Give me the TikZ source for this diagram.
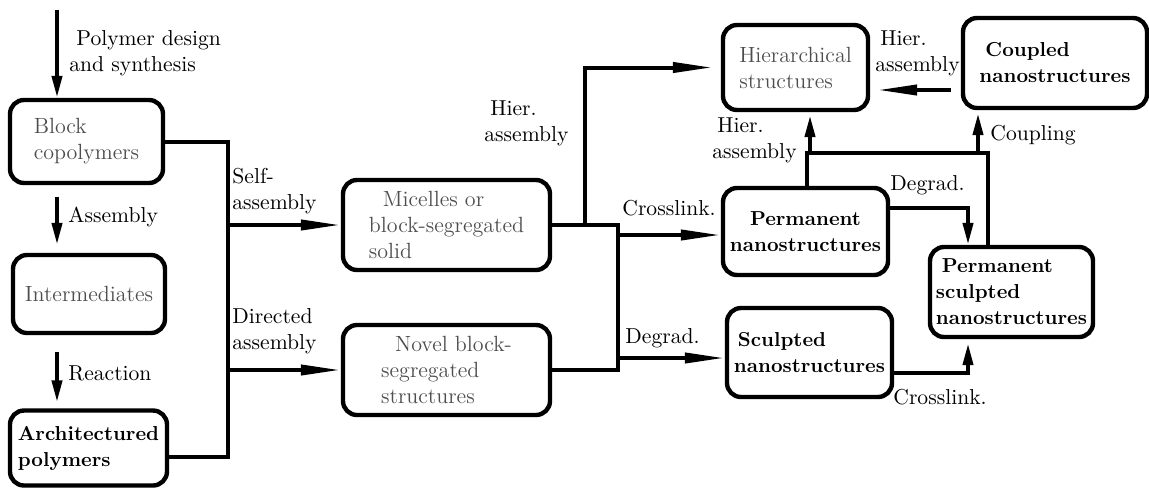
\documentclass[tikz,border=0pt]{standalone}
\usepackage{fontspec}
\usetikzlibrary{arrows.meta}
\definecolor{txtgray}{HTML}{4D4D4D}
\tikzset{
  box/.style={draw=black, line width=2.2pt, rounded corners=7pt, align=left, inner sep=2pt, font=\fontsize{11}{13}\selectfont},
  graytext/.style={text=txtgray},
  boldtext/.style={font=\fontsize{10.1}{13}\selectfont\bfseries},
  lbl/.style={align=left, inner sep=0pt, font=\fontsize{10.8}{13}\selectfont},
  conn/.style={line width=2pt},
  arr/.style={conn, -{Triangle[length=11pt,width=5pt]}},
  arrl/.style={conn, -{Triangle[length=20pt,width=5pt]}},
}
\begin{document}
\begin{tikzpicture}[x=0.5pt,y=-0.5pt]
\useasboundingbox (0,0) rectangle (1149,489);
% boxes
\node[box,graytext,minimum width=76.5pt,minimum height=41.5pt] (bc) at (86.5,141.5) {Block\\copolymers};
\node[box,graytext,minimum width=76pt,minimum height=39pt] (im) at (89,294) {Intermediates};
\node[box,boldtext,minimum width=78.5pt,minimum height=37.5pt] (ap) at (88.5,448) {Architectured\\polymers};
\node[box,graytext,minimum width=103.5pt,minimum height=45pt] (mi) at (446.5,225) {\hspace*{7pt}Micelles or\\block-segregated\\solid};
\node[box,graytext,minimum width=103.5pt,minimum height=45pt] (nv) at (446.5,370) {\hspace*{7pt}Novel block-\\segregated\\structures};
\node[box,graytext,minimum width=72.5pt,minimum height=42.5pt] (hs) at (795.5,67.5) {Hierarchical\\structures};
\node[box,boldtext,minimum width=92pt,minimum height=45pt] (cp) at (1055,63) {\hspace*{3pt}Coupled\\nanostructures};
\node[box,boldtext,align=center,minimum width=82.5pt,minimum height=43.5pt] (pn) at (805.5,231.5) {Permanent\\nanostructures};
\node[box,boldtext,minimum width=81.5pt,minimum height=45pt] (ps) at (1011.5,292) {\hspace*{3pt}Permanent\\sculpted\\nanostructures};
\node[box,boldtext,minimum width=82.5pt,minimum height=44.5pt] (sc) at (809.5,352.5) {\hspace*{2pt}Sculpted\\nanostructures};
% helper coordinates
\coordinate (start) at (57,10);
\coordinate (axis) at (57,0);
\coordinate (bus) at (228,0);
\coordinate (bus2) at (618,0);
\coordinate (hx) at (585,0);
\coordinate (j1) at (807,153);
\coordinate (j2) at (988,153);
\coordinate (hup) at (810,153);
\coordinate (cup) at (978,153);
\coordinate (ha) at (953,90);
\coordinate (dg) at (968,208);
\coordinate (cl) at (968,373);
\coordinate (xl) at (0,235);
\coordinate (dl) at (0,358);
% connectors
\draw[arr] (start) -- (start |- bc.north);
\draw[arr,shorten <=6pt,shorten >=4pt] (bc.south -| axis) -- (im.north -| axis);
\draw[arr,shorten <=8.5pt,shorten >=3pt] (im.south -| axis) -- (ap.north -| axis);
\draw[conn] (bc.east) -| ([yshift=-4.5pt]bus |- ap.east) -- ([yshift=-4.5pt]ap.east);
\draw[arrl] (bus |- mi.west) -- (mi.west);
\draw[arrl] (bus |- nv.west) -- (nv.west);
\draw[conn] (mi.east) -| (bus2 |- nv.east) -- (nv.east);
\draw[arrl,shorten >=4pt] (hx |- mi.east) |- (hs.west);
\draw[arrl] (bus2 |- xl) -- (pn.west |- xl);
\draw[arrl] (bus2 |- dl) -- (sc.west |- dl);
\draw[conn] (pn.north -| j1) -- (j1) -- (j2) -- (j2 |- ps.north);
\draw[arr,shorten >=1.5pt] (hup) -- (hup |- hs.south);
\draw[arr,shorten >=1.5pt] (cup) -- (cup |- cp.south);
\draw[arrl,shorten <=5pt,shorten >=3.5pt] (cp.west |- ha) -- (hs.east |- ha);
\draw[arr] (pn.east |- dg) -| (dg |- ps.north);
\draw[arr,shorten >=2pt] (sc.east |- cl) -| (cl |- ps.south);
% labels
\node[lbl,anchor=west] (l1) at (69,53) {\hspace*{3.5pt}Polymer design\\and synthesis};
\node[lbl,anchor=west] (l2) at (68,217) {Assembly};
\node[lbl,anchor=west] (l3) at (68,373) {Reaction};
\node[lbl,anchor=west] (l4) at (232,191) {Self-\\assembly};
\node[lbl,anchor=west] (l5) at (232,331) {Directed\\assembly};
\node[lbl,anchor=west] (l6) at (484,123) {\hspace*{3pt}Hier.\\assembly};
\node[lbl,anchor=west] (l7) at (622,208) {Crosslink.};
\node[lbl,anchor=west] (l8) at (625,338) {Degrad.};
\node[lbl,anchor=west] (l9) at (875,53) {\hspace*{2.5pt}Hier.\\assembly};
\node[lbl,anchor=west] (l10) at (712,140) {\hspace*{2.5pt}Hier.\\assembly};
\node[lbl,anchor=west] (l11) at (990,135) {Coupling};
\node[lbl,anchor=west] (l12) at (890,185) {Degrad.};
\node[lbl,anchor=west] (l13) at (893,397) {Crosslink.};
\end{tikzpicture}
\end{document}
